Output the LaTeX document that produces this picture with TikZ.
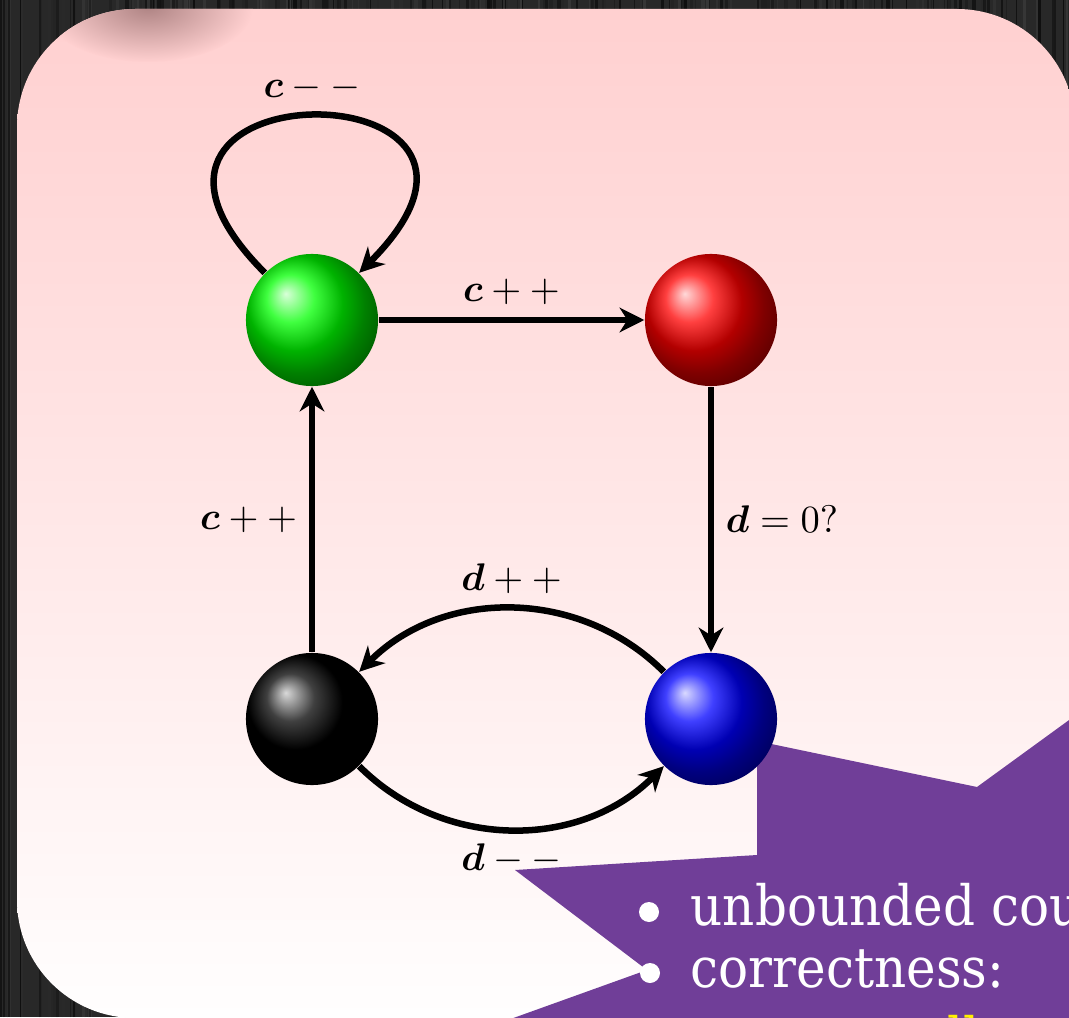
\documentclass[tikz,border=0pt]{standalone}
\usepackage{fontspec}
\usepackage{amsmath}
\newfontfamily\slabfont{DejaVu Serif Condensed}
\usetikzlibrary{arrows.meta,shadings}
\definecolor{woodbg}{RGB}{40,40,40}
\definecolor{pinktop}{RGB}{255,208,208}
\definecolor{pinkbot}{RGB}{255,254,254}
\definecolor{starpurple}{RGB}{112,62,152}
\definecolor{shadowpink}{RGB}{175,132,132}
\definecolor{texyellow}{RGB}{255,240,0}
\tikzset{
  ball/.style={circle, minimum size=1.32cm, inner sep=0pt, ball color=#1},
  edgearrow/.style={line width=1.85pt, -{Stealth[length=7pt,width=7pt,inset=2.2pt]}},
  lab/.style={font=\fontsize{11}{13}\selectfont},
  itemtext/.style={anchor=base west, inner sep=0pt, font=\fontsize{15.8}{19}\selectfont\slabfont},
}
\begin{document}
\begin{tikzpicture}[x=0.01cm,y=0.01cm]
\clip (0,0) rectangle (1069,1017);
% wood background
\fill[woodbg] (0,0) rectangle (1069,1017);
\pgfmathsetseed{7}
\foreach \i in {1,...,260}{
  \pgfmathsetmacro{\xx}{rnd*1069}
  \pgfmathtruncatemacro{\gg}{6+rnd*16}
  \pgfmathsetmacro{\ww}{0.2+rnd*0.9}
  \draw[line width=\ww pt, white!\gg!black] (\xx,0) -- (\xx,1017);
}
% card
\shade[top color=pinktop, bottom color=pinkbot, rounded corners=1.18cm]
  (17,-1) rectangle (1075,1008);
\begin{scope}
  \clip[rounded corners=1.18cm] (17,-1) rectangle (1075,1008);
  \shade[inner color=shadowpink, outer color=pinktop] (148,1010) ellipse (105 and 55);
\end{scope}
% purple starburst
\fill[starpurple] (757,276) -- (977,230) -- (1120,334) -- (1120,-100)
  -- (480,-13) -- (647,47) -- (515,147) -- (757,162) -- cycle;
% nodes
\node[ball=green] (g) at (312,697) {};
\node[ball=red]   (r) at (711,697) {};
\node[ball=black] (k) at (312,298) {};
\node[ball=blue]  (b) at (711,298) {};
% edges
\draw[edgearrow] (g) -- node[lab, above] {$\boldsymbol{c}++$} (r);
\draw[edgearrow] (r) -- node[lab, right] {$\boldsymbol{d}=0?$} (b);
\draw[edgearrow] (k) -- node[lab, left] {$\boldsymbol{c}++$} (g);
\draw[edgearrow] (b) to[bend right=45] node[lab, above] {$\boldsymbol{d}++$} (k);
\draw[edgearrow] (k) to[bend right=45] node[lab, below] {$\boldsymbol{d}--$} (b);
\draw[edgearrow] (g.135) .. controls +(135:296) and +(45:296) .. node[lab, above] {$\boldsymbol{c}--$} (g.45);
% bullet text
\fill[white] (649,105) circle (10);
\fill[white] (650,44) circle (10);
\node[itemtext, text=white] (t1) at (690,92) {unbounded counters};
\node[itemtext, text=white] (t2) at (690,30) {correctness:};
\node[itemtext, text=texyellow] (t3) at (745,-40) {eventually};
\end{tikzpicture}
\end{document}
